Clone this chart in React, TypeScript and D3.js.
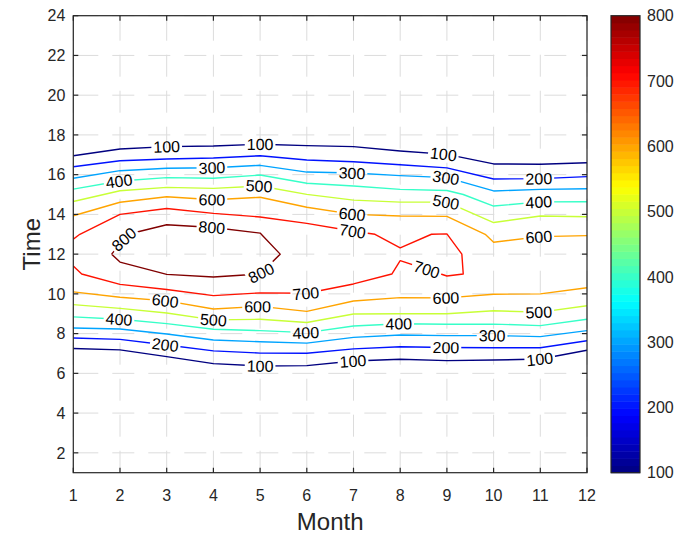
import * as d3 from "d3";

// contour levels and colour range
const levels = [100, 200, 300, 400, 500, 600, 700, 800];
const xTicks = d3.range(1, 13);
const yTicks = d3.range(2, 25, 2);
const cbTicks = [100, 200, 300, 400, 500, 600, 700, 800];

// contour pieces as [month, time] vertices
const c100Upper = [[1, 16.95], [2, 17.29], [3, 17.41], [4, 17.44], [5, 17.53], [6, 17.46], [7, 17.41], [8, 17.19], [9, 17.02], [10, 16.54], [11, 16.52], [12, 16.6]];
const c100Lower = [[1, 7.25], [2, 7.18], [3, 6.84], [4, 6.49], [5, 6.37], [6, 6.39], [7, 6.62], [8, 6.71], [9, 6.64], [10, 6.67], [11, 6.72], [12, 7.16]];
const c200Upper = [[1, 16.4], [2, 16.7], [3, 16.79], [4, 16.84], [5, 16.95], [6, 16.74], [7, 16.65], [8, 16.5], [9, 16.34], [10, 15.78], [11, 15.8], [12, 15.9]];
const c200Lower = [[1, 7.78], [2, 7.71], [3, 7.43], [4, 7.13], [5, 7.02], [6, 7.01], [7, 7.23], [8, 7.34], [9, 7.3], [10, 7.29], [11, 7.29], [12, 7.64]];
const c300Upper = [[1, 15.82], [2, 16.2], [3, 16.32], [4, 16.35], [5, 16.47], [6, 16.13], [7, 16.08], [8, 15.95], [9, 15.85], [10, 15.18], [11, 15.26], [12, 15.29]];
const c300Lower = [[1, 8.28], [2, 8.23], [3, 7.98], [4, 7.68], [5, 7.59], [6, 7.52], [7, 7.81], [8, 7.93], [9, 7.9], [10, 7.9], [11, 7.85], [12, 8.15]];
const c400Upper = [[1, 15.27], [2, 15.68], [3, 15.85], [4, 15.82], [5, 15.98], [6, 15.57], [7, 15.43], [8, 15.26], [9, 15.2], [9.35, 15.0], [10, 14.42], [11, 14.63], [12, 14.64]];
const c400Lower = [[1, 8.84], [2, 8.72], [3, 8.5], [4, 8.22], [5, 8.15], [6, 8.05], [7, 8.38], [8, 8.5], [9, 8.47], [10, 8.48], [11, 8.4], [12, 8.72]];
const c500Upper = [[1, 14.65], [2, 15.19], [3, 15.36], [4, 15.31], [5, 15.43], [6, 15.01], [7, 14.72], [8, 14.62], [9, 14.62], [10, 13.59], [11, 13.92], [12, 13.88]];
const c500Lower = [[1, 9.46], [2, 9.27], [3, 9.04], [4, 8.69], [5, 8.72], [6, 8.56], [7, 8.99], [8, 9.0], [9, 9.0], [10, 9.15], [11, 9.08], [12, 9.4]];
const c600Upper = [[1, 13.93], [2, 14.61], [3, 14.89], [4, 14.74], [5, 14.86], [6, 14.36], [7, 14.0], [8, 13.92], [9, 13.9], [9.82, 13.0], [10, 12.6], [11, 12.88], [12, 12.93]];
const c600Lower = [[1, 10.1], [2, 9.83], [3, 9.65], [4, 9.24], [5, 9.37], [6, 9.12], [7, 9.64], [8, 9.81], [9, 9.8], [10, 9.98], [11, 10.0], [12, 10.31]];
const c700 = [[1, 12.75], [1.14, 13.0], [2, 14.0], [3, 14.3], [4, 14.05], [5, 13.87], [6, 13.55], [7, 13.15], [7.46, 13.0], [8, 12.32], [8.67, 13.0], [9, 13.02], [9.32, 12.0], [9.35, 11.0], [9, 10.9], [8.87, 11.0], [8, 11.67], [7.82, 11.0], [7, 10.5], [6, 10.03], [5, 10.05], [4, 9.91], [3, 10.22], [2, 10.48], [1.18, 11.0], [1, 11.4]];
const c800 = [[1.82, 12.0], [2, 12.5], [2.17, 13.0], [3, 13.48], [4, 13.34], [5, 13.06], [5.43, 12.0], [5, 11.0], [4, 10.85], [3, 10.98], [2, 11.6], [1.82, 12.0]];

const contours = [
  { level: 100, pts: c100Upper }, { level: 100, pts: c100Lower },
  { level: 200, pts: c200Upper }, { level: 200, pts: c200Lower },
  { level: 300, pts: c300Upper }, { level: 300, pts: c300Lower },
  { level: 400, pts: c400Upper }, { level: 400, pts: c400Lower },
  { level: 500, pts: c500Upper }, { level: 500, pts: c500Lower },
  { level: 600, pts: c600Upper }, { level: 600, pts: c600Lower },
  { level: 700, pts: c700 },
  { level: 800, pts: c800 },
];

// clabel anchors: [level, month, time], snapped onto the line
const labelAnchors = [
  [100, 3.0, 17.34], [100, 5.0, 17.5], [100, 8.92, 16.9],
  [300, 3.97, 16.23], [300, 6.97, 15.98], [300, 8.98, 15.63],
  [200, 10.97, 15.73],
  [400, 1.98, 15.63], [400, 10.97, 14.57],
  [500, 4.98, 15.38], [500, 8.98, 14.52],
  [600, 3.97, 14.62], [600, 6.97, 13.97], [600, 10.97, 12.81],
  [800, 3.97, 13.21], [800, 2.08, 12.75], [800, 5.0, 11.1],
  [700, 6.97, 13.06], [700, 8.53, 10.95], [700, 5.98, 9.94],
  [600, 2.96, 9.54], [600, 4.95, 9.29], [600, 8.98, 9.74],
  [400, 1.98, 8.68], [400, 5.98, 7.93], [400, 7.97, 8.33],
  [500, 3.99, 8.58], [500, 10.97, 8.99],
  [300, 9.97, 7.78],
  [200, 2.96, 7.27], [200, 8.98, 7.23],
  [100, 5.0, 6.3], [100, 6.99, 6.55], [100, 10.99, 6.65],
];

const W = 678;
const H = 538;
const L = 73.3, R = 587, T = 15.7, B = 472.7;
const CB_L = 611, CB_R = 640;
const FONT = "'Liberation Sans', Arial, Helvetica, sans-serif";
const AX = "#262626";

function jet(t) {
  const f = (v) => Math.max(0, Math.min(1, v));
  const r = f(1.5 - Math.abs(4 * t - 3));
  const g = f(1.5 - Math.abs(4 * t - 2));
  const b = f(1.5 - Math.abs(4 * t - 1));
  return d3.rgb(r * 255, g * 255, b * 255).formatHex();
}

export default function App() {
  const x = d3.scaleLinear([1, 12], [L, R]);
  const y = d3.scaleLinear([1, 24], [B, T]);
  const cbY = d3.scaleLinear([100, 800], [B, T]);
  const color = d3.scaleLinear([100, 800], [0, 1]);
  const line = d3.line((d) => x(d[0]), (d) => y(d[1]));

  const fs = 16;
  const labW = 3 * 0.556 * fs;

  const labels = labelAnchors.map(([lev, m, t]) => {
    const ax = x(m), ay = y(t);
    let best = null;
    contours.filter((c) => c.level === lev).forEach((c) => {
      const pp = c.pts.map((d) => [x(d[0]), y(d[1])]);
      const samples = [];
      let s = 0;
      for (let i = 0; i < pp.length - 1; i++) {
        const [x0, y0] = pp[i], [x1, y1] = pp[i + 1];
        const len = Math.hypot(x1 - x0, y1 - y0);
        const n = Math.max(1, Math.ceil(len * 2));
        for (let k = 0; k < n; k++) {
          samples.push([x0 + ((x1 - x0) * k) / n, y0 + ((y1 - y0) * k) / n, s + (len * k) / n]);
        }
        s += len;
      }
      samples.push([pp[pp.length - 1][0], pp[pp.length - 1][1], s]);
      samples.forEach((p, i) => {
        const dd = Math.hypot(p[0] - ax, p[1] - ay);
        if (!best || dd < best.dd) best = { dd, i, samples };
      });
    });
    const { i, samples } = best;
    const s0 = samples[i][2];
    const find = (target) => {
      let k = i;
      if (target < s0) while (k > 0 && samples[k][2] > target) k--;
      else while (k < samples.length - 1 && samples[k][2] < target) k++;
      return samples[k];
    };
    const a = find(s0 - labW / 2), b = find(s0 + labW / 2);
    let ang = (Math.atan2(b[1] - a[1], b[0] - a[0]) * 180) / Math.PI;
    if (ang > 90) ang -= 180;
    if (ang < -90) ang += 180;
    return { lev, cx: samples[i][0], cy: samples[i][1], ang };
  });

  const nBands = 64;
  const bands = d3.range(nBands).map((i) => ({
    v0: 100 + (i * 700) / nBands,
    v1: 100 + ((i + 1) * 700) / nBands,
    c: jet((i + 0.5) / nBands),
  }));

  return (
    <svg width={W} height={H} style={{ position: "absolute", left: 0, top: 0, background: "#fff" }} fontFamily={FONT}>
      <defs>
        <clipPath id="plot">
          <rect x={L} y={T} width={R - L} height={B - T} />
        </clipPath>
        <mask id="gaps" maskUnits="userSpaceOnUse" x={0} y={0} width={W} height={H}>
          <rect x={0} y={0} width={W} height={H} fill="#fff" />
          {labels.map((l, i) => (
            <rect key={i} x={-labW / 2 - 2} y={-7} width={labW + 4} height={14} fill="#000"
              transform={`translate(${l.cx},${l.cy}) rotate(${l.ang})`} />
          ))}
        </mask>
      </defs>
      <rect x={L} y={T} width={R - L} height={B - T} fill="#fff" />
      {/* grid */}
      <g stroke="#dcdcdc" strokeWidth={1} strokeDasharray="22,14" strokeDashoffset={33}>
        {xTicks.map((v) => (
          <line key={"gx" + v} x1={x(v)} x2={x(v)} y1={T} y2={B} />
        ))}
        {yTicks.map((v) => (
          <line key={"gy" + v} x1={L} x2={R} y1={y(v)} y2={y(v)} />
        ))}
      </g>
      {/* contour lines */}
      <g clipPath="url(#plot)">
        <g mask="url(#gaps)" fill="none" strokeWidth={1.4} strokeLinejoin="round">
          {contours.map((c, i) => (
            <path key={i} d={line(c.pts)} stroke={jet(color(c.level))} />
          ))}
        </g>
      </g>
      {/* contour labels */}
      <g fontSize={fs} fill="#000" textAnchor="middle">
        {labels.map((l, i) => (
          <text key={i} x={0} y={0} dy="0.36em" transform={`translate(${l.cx},${l.cy}) rotate(${l.ang})`}>
            {l.lev}
          </text>
        ))}
      </g>
      {/* axes box and ticks */}
      <rect x={L} y={T} width={R - L} height={B - T} fill="none" stroke={AX} strokeWidth={1.2} />
      <g stroke={AX} strokeWidth={1.2}>
        {xTicks.map((v) => (
          <g key={"tx" + v}>
            <line x1={x(v)} x2={x(v)} y1={B} y2={B - 5} />
            <line x1={x(v)} x2={x(v)} y1={T} y2={T + 5} />
          </g>
        ))}
        {yTicks.map((v) => (
          <g key={"ty" + v}>
            <line x1={L} x2={L + 5} y1={y(v)} y2={y(v)} />
            <line x1={R} x2={R - 5} y1={y(v)} y2={y(v)} />
          </g>
        ))}
      </g>
      <g fontSize={fs} fill={AX}>
        {xTicks.map((v) => (
          <text key={"lx" + v} x={x(v)} y={B + 28} textAnchor="middle">{v}</text>
        ))}
        {yTicks.map((v) => (
          <text key={"ly" + v} x={L - 8} y={y(v)} dy="0.36em" textAnchor="end">{v}</text>
        ))}
      </g>
      <text x={(L + R) / 2} y={530} fontSize={24} fill={AX} textAnchor="middle">Month</text>
      <text transform={`translate(40,${(T + B) / 2}) rotate(-90)`} fontSize={24} fill={AX} textAnchor="middle">Time</text>
      {/* colorbar */}
      <g>
        {bands.map((b, i) => (
          <rect key={i} x={CB_L} width={CB_R - CB_L} y={cbY(b.v1)} height={cbY(b.v0) - cbY(b.v1) + 0.5} fill={b.c} />
        ))}
        <rect x={CB_L} y={T} width={CB_R - CB_L} height={B - T} fill="none" stroke={AX} strokeWidth={1.2} />
        <g fontSize={fs} fill={AX}>
          {cbTicks.map((v) => (
            <text key={v} x={CB_R + 7} y={cbY(v)} dy="0.36em">{v}</text>
          ))}
        </g>
      </g>
    </svg>
  );
}
